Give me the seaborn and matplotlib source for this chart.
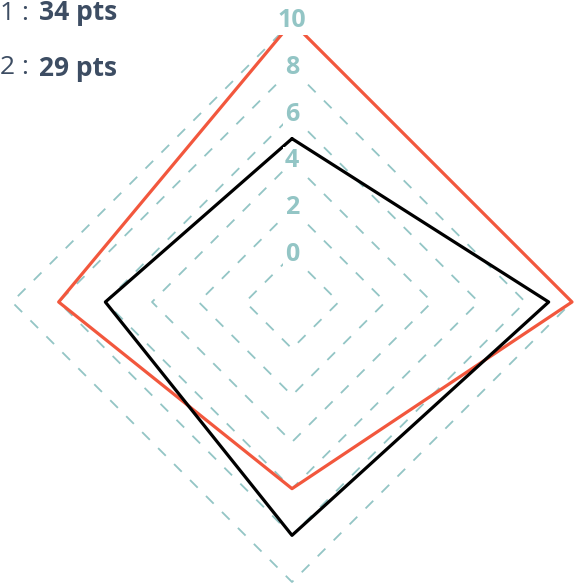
import numpy as np
import pandas as pd
import matplotlib
matplotlib.use('Agg')
import matplotlib.pyplot as plt
import seaborn as sns

sns.set_style('white')
plt.rcParams['font.family'] = ['Open Sans', 'DejaVu Sans']

# data
categories = ['A', 'B', 'C', 'D']          # top, right, bottom, left (clockwise)
series_1 = [10, 10, 6, 8]
series_2 = [5, 9, 8, 6]
series_names = ['1', '2']
totals = [34, 29]
ticks = [0, 2, 4, 6, 8, 10]
scale_min, scale_max = -2, 10

RED = '#f2573d'
BLACK = '#000000'
GRID = '#93c5c5'
TXT = '#3d4d63'

W, H = 575, 587
cx, cy, R = 292, 302, 280


def to_xy(vals):
    n = len(vals)
    ang = np.pi / 2 - np.arange(n) * 2 * np.pi / n
    r = (np.asarray(vals, dtype=float) - scale_min) / (scale_max - scale_min)
    x = np.append(r * np.cos(ang), r[0] * np.cos(ang[0]))
    y = np.append(r * np.sin(ang), r[0] * np.sin(ang[0]))
    return x, y


fig = plt.figure(figsize=(W / 100, H / 100), dpi=100)
ax = fig.add_axes([0, 0, 1, 1])

# grid rings
for t in ticks:
    gx, gy = to_xy([t] * len(categories))
    ax.plot(gx, gy, color=GRID, lw=1.3, dashes=(6, 6.5), zorder=1)

# series
rows = []
for name, vals in zip(series_names, [series_1, series_2]):
    x, y = to_xy(vals)
    for i, (a, b) in enumerate(zip(x, y)):
        rows.append({'serie': name, 'order': i, 'x': a, 'y': b})
df = pd.DataFrame(rows)
sns.lineplot(data=df, x='x', y='y', hue='serie', palette=[RED, BLACK],
             sort=False, estimator=None, lw=2.3, legend=False, ax=ax, zorder=3)
ax.set_xlim(-cx / R, (W - cx) / R)
ax.set_ylim(-(H - cy) / R, cy / R)
ax.axis('off')

# tick labels
for t in ticks:
    r = (t - scale_min) / (scale_max - scale_min)
    ax.text(0, r + 0.004, str(t), ha='center', va='center', color=GRID,
            fontsize=18, fontweight='bold', zorder=5,
            bbox=dict(facecolor='white', edgecolor='none', pad=1.0))

# totals at top left
for i, (name, tot) in enumerate(zip(series_names, totals)):
    ypix = 13 + i * 55
    fig.text(0, 1 - ypix / H, f'{name} :', ha='left', va='center',
             fontsize=19, color=TXT)
    fig.text(39 / W, 1 - ypix / H, f'{tot} pts', ha='left', va='center',
             fontsize=19, fontweight='bold', color=TXT)

fig.savefig('out.png', dpi=100)
